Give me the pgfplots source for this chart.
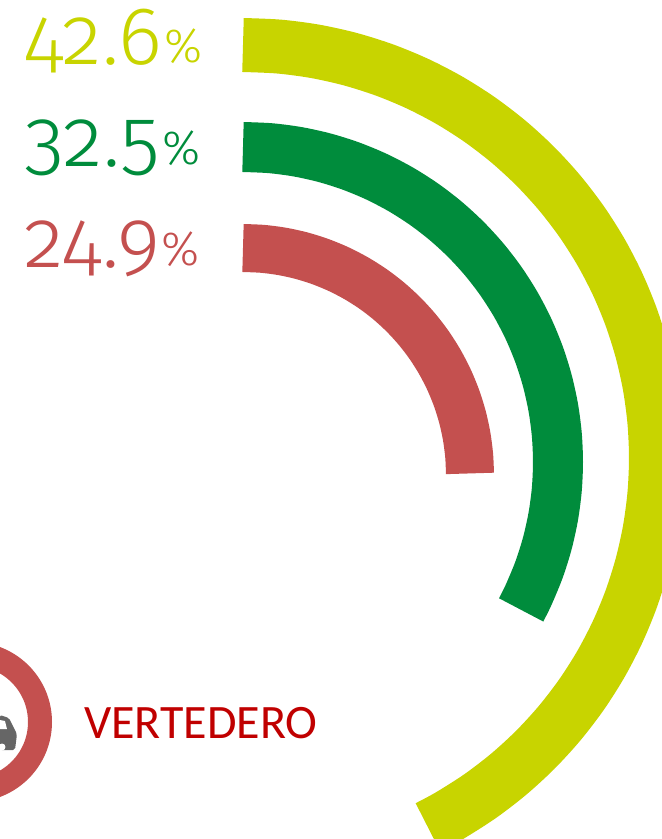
\documentclass[border=0pt]{standalone}
\usepackage{pgfplots}
\pgfplotsset{compat=1.18}
\usepackage{fontspec}
\setmainfont{Fira Sans}
\newfontfamily\numfont[Numbers=OldStyle]{Fira Sans Light}
\newfontfamily\labfont{Carlito}
\definecolor{cy}{HTML}{C8D400}
\definecolor{cg}{HTML}{008C3C}
\definecolor{cr}{HTML}{C4504F}
\definecolor{cd}{HTML}{C00000}
\newcommand{\pct}{\fontsize{48}{48}\selectfont\kern2pt\raisebox{2pt}{\%}}
\begin{document}
\begin{tikzpicture}
\begin{axis}[
  anchor=origin, at={(0,0)},
  x=1pt, y=1pt,
  xmin=-243, xmax=419, ymin=-377, ymax=462,
  hide axis, clip=true,
  every axis plot/.append style={no markers, line join=round}]
% yellow: 42.6 % = 153.4 degrees from the top
\addplot[cy, smooth, line width=54pt, yshift=4pt, data cs=polar] coordinates {
(90,413)(85,413)(80,413)(75,413)(70,413)(65,413)(60,413)(55,413)(50,413)(45,413)(40,413)(35,413)(30,413)(25,413)(20,413)(15,413)(10,413)(5,413)(0,413)(-5,413)(-10,413)(-15,413)(-20,413)(-25,413)(-30,413)(-35,413)(-40,413)(-45,413)(-50,413)(-55,413)(-60,413)(-63.4,413)};
% green: 32.5 % = 117 degrees
\addplot[cg, smooth, line width=50pt, data cs=polar] coordinates {
(90,315)(85,315)(80,315)(75,315)(70,315)(65,315)(60,315)(55,315)(50,315)(45,315)(40,315)(35,315)(30,315)(25,315)(20,315)(15,315)(10,315)(5,315)(0,315)(-5,315)(-10,315)(-15,315)(-20,315)(-25,315)(-28,315)};
% red: 24.9 % = 89.6 degrees
\addplot[cr, smooth, line width=48pt, yshift=-13pt, data cs=polar] coordinates {
(90,227)(85,227)(80,227)(75,227)(70,227)(65,227)(60,227)(55,227)(50,227)(45,227)(40,227)(35,227)(30,227)(25,227)(20,227)(15,227)(10,227)(5,227)(0.4,227)};
% labels
\node[anchor=base west, inner sep=0pt, text=cy, font=\numfont\fontsize{82}{82}\selectfont] at (axis cs:-219,397) {42.6\pct};
\node[anchor=base west, inner sep=0pt, text=cg, font=\numfont\fontsize{82}{82}\selectfont] at (axis cs:-219,295) {32.5\pct};
\node[anchor=base west, inner sep=0pt, text=cr, font=\numfont\fontsize{82}{82}\selectfont] at (axis cs:-219,194) {24.9\pct};
% icon
\draw[cr, line width=24pt] (axis cs:-271,-260) circle[radius=68pt];
\fill[black!60, rounded corners=2pt] (axis cs:-243,-288) -- (axis cs:-228,-288) -- (axis cs:-226,-272) -- (axis cs:-234,-256) -- (axis cs:-243,-253) -- cycle;
\fill[white] (axis cs:-243,-267) -- (axis cs:-236,-267) -- (axis cs:-238,-259) -- (axis cs:-243,-258) -- cycle;
\fill[white] (axis cs:-241,-285) circle[radius=3.5pt];
\node[anchor=base west, inner sep=0pt, text=cd, font=\labfont\fontsize{48}{48}\selectfont] at (axis cs:-159,-276) {VERTEDERO};
\end{axis}
\pgfresetboundingbox
\path[use as bounding box] (-243pt,-377pt) rectangle (419pt,462pt);
\end{tikzpicture}
\end{document}
